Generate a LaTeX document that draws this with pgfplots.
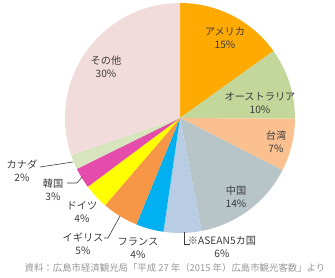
\documentclass[border=0pt]{standalone}
\usepackage{pgfplots}
\usepackage{pgfplotstable}
\pgfplotsset{compat=1.18}
\usepackage{fontspec}
\newfontfamily\cjk{Noto Sans CJK JP}
\definecolor{cAm}{RGB}{255,170,0}
\definecolor{cAu}{RGB}{196,215,155}
\definecolor{cTw}{RGB}{250,192,144}
\definecolor{cCn}{RGB}{183,197,200}
\definecolor{cAs}{RGB}{184,204,228}
\definecolor{cFr}{RGB}{0,176,240}
\definecolor{cUk}{RGB}{247,150,70}
\definecolor{cDe}{RGB}{255,255,0}
\definecolor{cKr}{RGB}{228,75,170}
\definecolor{cCa}{RGB}{215,228,189}
\definecolor{cOt}{RGB}{242,220,219}
\definecolor{lbl}{RGB}{60,60,60}
\definecolor{src}{RGB}{150,150,150}
\pgfplotstableread{
value color
15.1 cAm
10.0 cAu
7.4 cTw
14.5 cCn
5.3 cAs
3.9 cFr
5.1 cUk
3.5 cDe
2.9 cKr
2.1 cCa
30.2 cOt
}\piedata
\begin{document}
\begin{tikzpicture}
\begin{axis}[x=1pt, y=1pt, xmin=0, xmax=335, ymin=0, ymax=277,
  hide axis, clip=false, scale only axis]
\path (axis cs:0,0) rectangle (axis cs:335,277);
\xdef\angA{90}
\foreach \i in {0,...,10}{
  \pgfplotstablegetelem{\i}{value}\of\piedata \let\v\pgfplotsretval
  \pgfplotstablegetelem{\i}{color}\of\piedata \let\c\pgfplotsretval
  \pgfmathsetmacro\angB{\angA-3.6*\v}
  \edef\temp{\noexpand\fill[\c] (axis cs:180,159) -- ++(\angA:115pt) arc[start angle=\angA, end angle=\angB, radius=115pt] -- cycle;}
  \temp
  \xdef\angA{\angB}
}
\tikzset{lb/.style={font=\cjk\fontsize{10.2}{13}\selectfont, text=lbl, align=center, inner sep=0pt}}
\node[lb] at (axis cs:225,238.5) {アメリカ\\15\%};
\node[lb] at (axis cs:260,174) {オーストラリア\\10\%};
\node[lb] at (axis cs:276,135) {台湾\\7\%};
\node[lb] at (axis cs:236,80.5) {中国\\14\%};
\node[lb] at (axis cs:222,29.5) {※ASEAN5カ国\\6\%};
\node[lb] at (axis cs:138,29) {フランス\\4\%};
\node[lb] at (axis cs:83,33.5) {イギリス\\5\%};
\node[lb] at (axis cs:82,64.5) {ドイツ\\4\%};
\node[lb] at (axis cs:53,87.5) {韓国\\3\%};
\node[lb] at (axis cs:22,106) {カナダ\\2\%};
\node[lb] at (axis cs:106,210) {その他\\30\%};
\draw[lbl, line width=0.6pt] (axis cs:40,110) -- (axis cs:73,115);
\draw[lbl, line width=0.6pt] (axis cs:67,94) -- (axis cs:77,94) -- (axis cs:82,100);
\draw[lbl, line width=0.6pt] (axis cs:104,39) -- (axis cs:108,39) -- (axis cs:120,61);
\draw[lbl, line width=0.6pt] (axis cs:184,45) -- (axis cs:184,33) -- (axis cs:190,33);
\node[font=\cjk\fontsize{9.4}{11}\selectfont, text=src, inner sep=0pt] at (axis cs:175,9) {資料：広島市経済観光局「平成 27 年（2015 年）広島市観光客数」より};
\end{axis}
\end{tikzpicture}
\end{document}
